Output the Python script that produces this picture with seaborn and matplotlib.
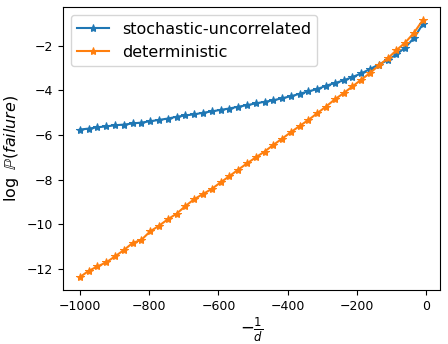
import numpy as np
import pandas as pd
import matplotlib
matplotlib.use("Agg")
import matplotlib.pyplot as plt
import seaborn as sns

# x positions: -1/d, 40 evenly spaced points
x_vals = np.linspace(-1000, -10, 40)

stochastic = [-5.76, -5.72, -5.66, -5.62, -5.57, -5.54, -5.49, -5.45, -5.39, -5.33,
              -5.27, -5.19, -5.13, -5.08, -5.01, -4.95, -4.88, -4.82, -4.74, -4.67,
              -4.59, -4.52, -4.45, -4.36, -4.27, -4.16, -4.05, -3.95, -3.80, -3.68,
              -3.56, -3.41, -3.25, -3.05, -2.85, -2.66, -2.40, -2.09, -1.66, -1.04]

deterministic = [-12.37, -12.09, -11.89, -11.71, -11.44, -11.16, -10.84, -10.70, -10.32, -10.07,
                 -9.78, -9.53, -9.19, -8.88, -8.65, -8.42, -8.13, -7.85, -7.56, -7.28,
                 -7.01, -6.75, -6.45, -6.17, -5.88, -5.60, -5.33, -5.03, -4.73, -4.41,
                 -4.13, -3.83, -3.53, -3.23, -2.89, -2.58, -2.21, -1.87, -1.43, -0.86]

series_names = ["stochastic-uncorrelated", "deterministic"]
series_colors = ["#1f77b4", "#ff7f0e"]


def main():
    fig, ax = plt.subplots(figsize=(4.48, 3.44), dpi=100)
    fig.subplots_adjust(left=0.14, right=0.982, top=0.979, bottom=0.157)

    for name, vals, col in zip(series_names, [stochastic, deterministic], series_colors):
        df = pd.DataFrame({"x": x_vals, "y": vals})
        sns.lineplot(data=df, x="x", y="y", ax=ax, label=name, color=col,
                     marker="*", markersize=6, markeredgecolor=col,
                     markeredgewidth=0.75, linewidth=1.5)

    ax.set_xlabel(r"$-\frac{1}{d}$", fontsize=12, labelpad=2)
    ax.set_ylabel(r"$\log\ \mathbb{P}(failure)$", fontsize=11.5)
    ax.set_xticks([-1000, -800, -600, -400, -200, 0])
    ax.set_yticks([-12, -10, -8, -6, -4, -2])
    ax.tick_params(labelsize=9)
    ax.legend(loc="upper left", fontsize=11.5)

    fig.savefig("out.png", dpi=100)


if __name__ == "__main__":
    main()
